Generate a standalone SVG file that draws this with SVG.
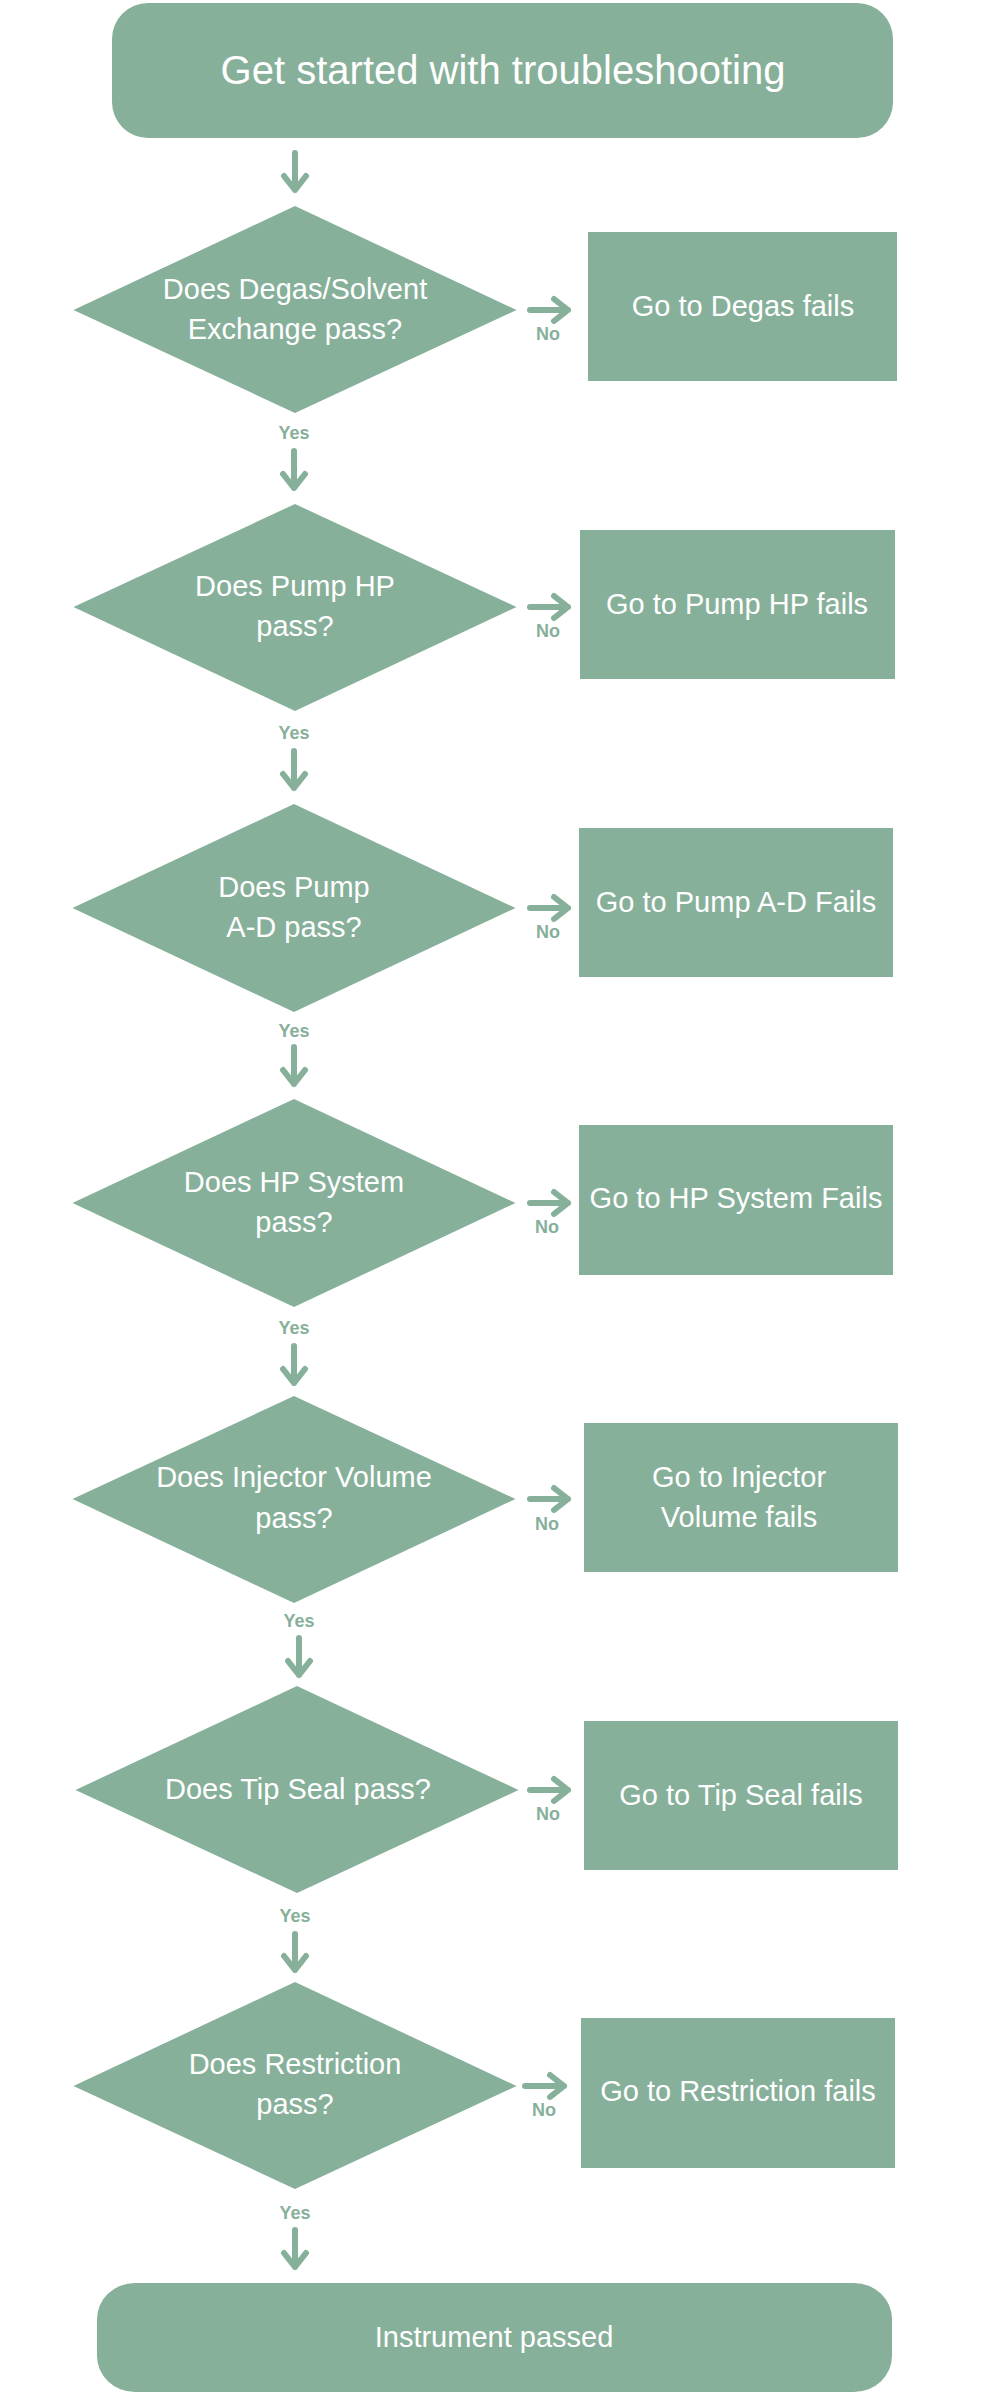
<svg xmlns="http://www.w3.org/2000/svg" width="1000" height="2400" viewBox="0 0 1000 2400">
<style>
.shape{fill:#87B09A}
.t{font-family:"Liberation Sans",Arial,sans-serif;fill:#ffffff;text-anchor:middle;font-size:29px}
.title{font-size:40px}
.lbl{font-family:"Liberation Sans",Arial,sans-serif;fill:#87B09A;font-weight:bold;font-size:18px;text-anchor:middle}
.conn{fill:none;stroke:#87B09A;stroke-width:6;stroke-linecap:round;stroke-linejoin:round}
</style>
<rect width="1000" height="2400" fill="#ffffff"/>
<g id="start">
<rect class="shape" x="112" y="3" width="781" height="135" rx="36" ry="36"/>
<text class="t title" x="503" y="84">Get started with troubleshooting</text>
</g>
<g id="q1">
<polygon class="shape" points="295,206 516.5,310 295,413 73.5,310"/>
<text class="t" x="295" y="299">Does Degas/Solvent</text>
<text class="t" x="295" y="339">Exchange pass?</text>
</g>
<g id="f1">
<rect class="shape" x="588" y="232" width="309" height="149"/>
<text class="t" x="743" y="316">Go to Degas fails</text>
</g>
<g id="q2">
<polygon class="shape" points="295,504 516.5,607 295,711 73.5,607"/>
<text class="t" x="295" y="596">Does Pump HP</text>
<text class="t" x="295" y="636">pass?</text>
</g>
<g id="f2">
<rect class="shape" x="580" y="530" width="315" height="149"/>
<text class="t" x="737" y="614">Go to Pump HP fails</text>
</g>
<g id="q3">
<polygon class="shape" points="294,804 515.5,908 294,1012 72.5,908"/>
<text class="t" x="294" y="897">Does Pump</text>
<text class="t" x="294" y="937">A-D pass?</text>
</g>
<g id="f3">
<rect class="shape" x="579" y="828" width="314" height="149"/>
<text class="t" x="736" y="912">Go to Pump A-D Fails</text>
</g>
<g id="q4">
<polygon class="shape" points="294,1099 515.5,1203 294,1307 72.5,1203"/>
<text class="t" x="294" y="1192">Does HP System</text>
<text class="t" x="294" y="1232">pass?</text>
</g>
<g id="f4">
<rect class="shape" x="579" y="1125" width="314" height="150"/>
<text class="t" x="736" y="1208">Go to HP System Fails</text>
</g>
<g id="q5">
<polygon class="shape" points="294,1396 515.5,1499 294,1603 72.5,1499"/>
<text class="t" x="294" y="1487">Does Injector Volume</text>
<text class="t" x="294" y="1528">pass?</text>
</g>
<g id="f5">
<rect class="shape" x="584" y="1423" width="314" height="149"/>
<text class="t" x="739" y="1487">Go to Injector</text>
<text class="t" x="739" y="1527">Volume fails</text>
</g>
<g id="q6">
<polygon class="shape" points="297,1686 518.5,1790 297,1893 75.5,1790"/>
<text class="t" x="298" y="1799">Does Tip Seal pass?</text>
</g>
<g id="f6">
<rect class="shape" x="584" y="1721" width="314" height="149"/>
<text class="t" x="741" y="1805">Go to Tip Seal fails</text>
</g>
<g id="q7">
<polygon class="shape" points="295,1982 516.5,2086 295,2189 73.5,2086"/>
<text class="t" x="295" y="2074">Does Restriction</text>
<text class="t" x="295" y="2114">pass?</text>
</g>
<g id="f7">
<rect class="shape" x="581" y="2018" width="314" height="150"/>
<text class="t" x="738" y="2101">Go to Restriction fails</text>
</g>
<g id="end">
<rect class="shape" x="97" y="2283" width="795" height="109" rx="38" ry="36"/>
<text class="t" x="494" y="2347">Instrument passed</text>
</g>
<g id="connectors">
<path class="conn" d="M295 153V190M284 176L295 190L306 176"/>
<path class="conn" d="M294 451V488M283 474L294 488L305 474"/>
<path class="conn" d="M294 751V788M283 774L294 788L305 774"/>
<path class="conn" d="M294 1047V1084M283 1070L294 1084L305 1070"/>
<path class="conn" d="M294 1346V1383M283 1369L294 1383L305 1369"/>
<path class="conn" d="M299 1638V1675M288 1661L299 1675L310 1661"/>
<path class="conn" d="M295 1934V1970M284 1956L295 1970L306 1956"/>
<path class="conn" d="M295 2230V2267M284 2253L295 2267L306 2253"/>
<path class="conn" d="M530 310H568M554 299L568 310L554 321"/>
<path class="conn" d="M530 607H568M554 596L568 607L554 618"/>
<path class="conn" d="M530 908H568M554 897L568 908L554 919"/>
<path class="conn" d="M530 1203H568M554 1192L568 1203L554 1214"/>
<path class="conn" d="M530 1499H568M554 1488L568 1499L554 1510"/>
<path class="conn" d="M530 1790H568M554 1779L568 1790L554 1801"/>
<path class="conn" d="M525 2086H564M550 2075L564 2086L550 2097"/>
<text class="lbl" x="294" y="439">Yes</text>
<text class="lbl" x="294" y="739">Yes</text>
<text class="lbl" x="294" y="1037">Yes</text>
<text class="lbl" x="294" y="1334">Yes</text>
<text class="lbl" x="299" y="1627">Yes</text>
<text class="lbl" x="295" y="1922">Yes</text>
<text class="lbl" x="295" y="2219">Yes</text>
<text class="lbl" x="548" y="340">No</text>
<text class="lbl" x="548" y="637">No</text>
<text class="lbl" x="548" y="938">No</text>
<text class="lbl" x="547" y="1233">No</text>
<text class="lbl" x="547" y="1530">No</text>
<text class="lbl" x="548" y="1820">No</text>
<text class="lbl" x="544" y="2116">No</text>
</g>
</svg>
